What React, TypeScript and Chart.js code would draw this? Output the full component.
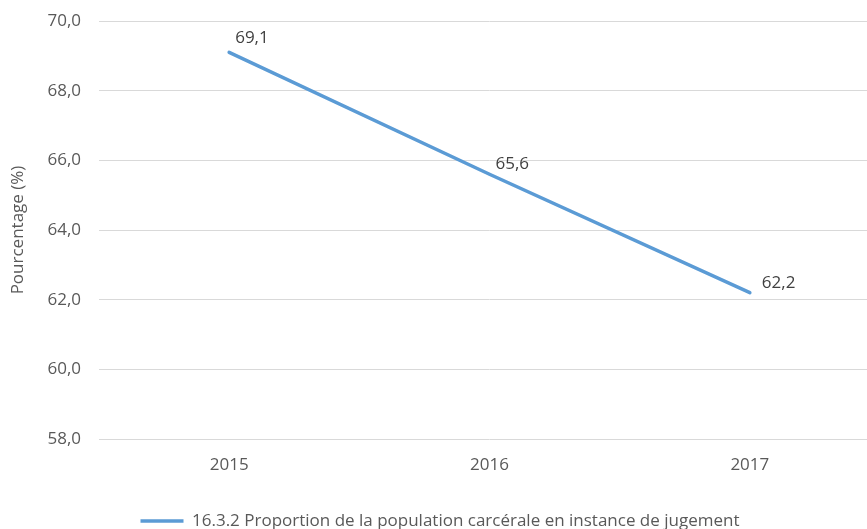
import React, { useEffect, useRef } from "react";
import { Chart, registerables } from "chart.js";

Chart.register(...registerables);

const years = ["2015", "2016", "2017"];
const values = [69.1, 65.6, 62.2];
const seriesLabel = "16.3.2 Proportion de la population carcérale en instance de jugement";
const yTitle = "Pourcentage (%)";
const yMin = 58;
const yMax = 70;
const yStep = 2;

const FONT = "'Open Sans', 'Liberation Sans', sans-serif";
const FS = 17;
const W = 887;
const H = 529;

const fmt = (v: number) => v.toFixed(1).replace(".", ",");

// label offsets relative to the point (dx, dy)
const labelOffsets = [
  [6, -14],
  [6, -10],
  [12, -10],
];

const dataLabels = {
  id: "dataLabels",
  afterDatasetsDraw(chart: any) {
    const ctx = chart.ctx;
    const meta = chart.getDatasetMeta(0);
    ctx.save();
    ctx.font = `${FS}px ${FONT}`;
    ctx.fillStyle = "#404040";
    ctx.textAlign = "left";
    ctx.textBaseline = "middle";
    meta.data.forEach((pt: any, i: number) => {
      const [dx, dy] = labelOffsets[i] || [6, -10];
      ctx.fillText(fmt(values[i]), pt.x + dx, pt.y + dy);
    });
    ctx.restore();
  },
};

export default function App() {
  const ref = useRef<HTMLCanvasElement>(null);
  useEffect(() => {
    document.body.style.margin = "0";
    document.body.style.overflow = "hidden";
    const chart = new Chart(ref.current!, {
      type: "line",
      data: {
        labels: years,
        datasets: [
          {
            label: seriesLabel,
            data: values,
            borderColor: "#5B9BD5",
            backgroundColor: "#5B9BD5",
            borderWidth: 3.5,
            borderCapStyle: "round",
            pointRadius: 0,
            pointHoverRadius: 0,
            tension: 0,
            fill: false,
          },
        ],
      },
      options: {
        responsive: false,
        animation: false,
        devicePixelRatio: 1,
        layout: { padding: { left: 0, right: 7, top: 21, bottom: -10.5 } },
        plugins: {
          tooltip: { enabled: false },
          legend: {
            position: "bottom",
            labels: {
              font: { family: FONT, size: FS },
              color: "#595959",
              boxWidth: 43,
              boxHeight: 3.5,
              padding: 0,
              generateLabels: (chart: any) =>
                Chart.defaults.plugins.legend.labels
                  .generateLabels(chart)
                  .map((l: any) => ({ ...l, lineWidth: 0, strokeStyle: "rgba(0,0,0,0)" })),
            },
          },
        },
        scales: {
          x: {
            offset: true,
            grid: { display: false, drawTicks: false },
            border: { display: false },
            ticks: { font: { family: FONT, size: FS }, color: "#595959", padding: 16 },
            afterFit: (s: any) => {
              s.height = 73.5;
            },
          },
          y: {
            min: yMin,
            max: yMax,
            grid: { color: "#D9D9D9", lineWidth: 1, drawTicks: false },
            border: { display: false },
            ticks: {
              stepSize: yStep,
              font: { family: FONT, size: FS },
              color: "#595959",
              padding: 18,
              callback: (v: any) => fmt(Number(v)),
            },
            title: {
              display: true,
              text: yTitle,
              font: { family: FONT, size: FS },
              color: "#595959",
              padding: { top: 8, bottom: 0 },
            },
            afterFit: (s: any) => {
              s.width = 99;
              s.paddingTop = 0;
              s.paddingBottom = 0;
            },
          },
        },
      },
      plugins: [dataLabels],
    } as any);
    return () => chart.destroy();
  }, []);
  return (
    <div style={{ position: "fixed", left: 0, top: 0, width: 867, height: 529, overflow: "hidden", background: "#fff" }}>
      <canvas ref={ref} width={W} height={H} style={{ width: W, height: H, display: "block" }} />
    </div>
  );
}
